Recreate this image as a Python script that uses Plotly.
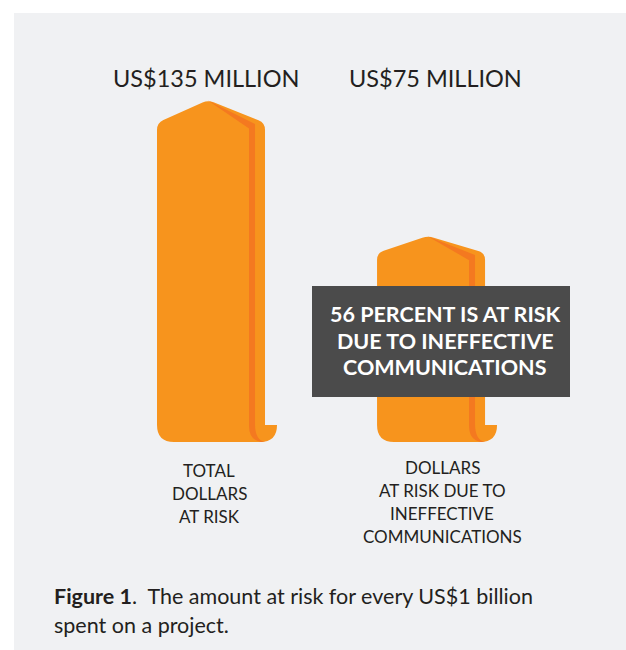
import plotly.graph_objects as go
import math

# ---------------- data ----------------
values = [135, 75]                                   # US$ million at risk per US$1 billion
value_labels = ["US$135 MILLION", "US$75 MILLION"]
category_lines = [
    ["TOTAL", "DOLLARS", "AT RISK"],
    ["DOLLARS", "AT RISK DUE TO", "INEFFECTIVE", "COMMUNICATIONS"],
]
callout_lines = ["56 PERCENT IS AT RISK", "DUE TO INEFFECTIVE", "COMMUNICATIONS"]
caption_line1 = "<b>Figure 1</b>.  The amount at risk for every US$1 billion"
caption_line2 = "spent on a project."

# ---------------- style ----------------
W, H = 626, 650
X_RANGE = [-0.959, 1.886]
Y_RANGE = [-107.65, 179.1]
SX = W / (X_RANGE[1] - X_RANGE[0])      # px per x unit
SY = H / (Y_RANGE[1] - Y_RANGE[0])      # px per y unit
BASE = -15.9                            # bar foot sits a little below zero (curl)
ROOF = [23, 17]                         # roof height in px
HALF = 54                               # half bar width px
LABEL_DX = [-5, 4]
CAT_DX = [-2, 11]
ORANGE = "#F7941D"
DARK_ORANGE = "#F47920"
BG = "#F0F1F3"
TEXT = "#231F20"
FONT = "Lato"


def to_data(i, u, vb):
    return i + u / SX, BASE + vb / SY


def fmt(i, u, vb):
    x, y = to_data(i, u, vb)
    return f"{x:.5f},{y:.4f}"


def rounded_path(i, corners):
    parts = []
    n = len(corners)
    for k, (u, v, r) in enumerate(corners):
        if r == 0:
            parts.append(("M " if k == 0 else "L ") + fmt(i, u, v))
            continue
        pu, pv, _ = corners[k - 1]
        nu, nv, _ = corners[(k + 1) % n]
        d1 = math.hypot(pu - u, pv - v)
        d2 = math.hypot(nu - u, nv - v)
        pin = (u + (pu - u) * r / d1, v + (pv - v) * r / d1)
        pout = (u + (nu - u) * r / d2, v + (nv - v) * r / d2)
        parts.append(("M " if k == 0 else "L ") + fmt(i, *pin))
        parts.append("Q " + fmt(i, u, v) + " " + fmt(i, *pout))
    return " ".join(parts) + " Z"


shapes = []
# background panel
shapes.append(dict(type="rect", xref="paper", yref="paper", x0=14 / W, x1=1,
                   y0=0, y1=1 - 13 / H, fillcolor=BG, line_width=0, layer="below"))

for i, v in enumerate(values):
    T = (v - BASE) * SY
    R = ROOF[i]
    sil = [
        (-HALF, T - R, 7),
        (-3, T, 6),
        (HALF, T - R, 7),
        (HALF, 17, 0),
        (HALF + 12, 17, 0),
        (HALF + 12, 0, 17),
        (-HALF, 0, 17),
    ]
    shapes.append(dict(type="path", xref="x", yref="y", path=rounded_path(i, sil),
                       fillcolor=ORANGE, line_width=0, layer="above"))
    stripe = (
        "M " + fmt(i, -3, T - 0.5)
        + " L " + fmt(i, 44, T - R * 47 / 57 - 5)
        + " L " + fmt(i, 44, 18)
        + " Q " + fmt(i, 44, 2) + " " + fmt(i, 54, 0)
        + " L " + fmt(i, 50, 0)
        + " Q " + fmt(i, 38, 2) + " " + fmt(i, 38, 16)
        + " L " + fmt(i, 38, T - R * 41 / 57 - 12)
        + " Z"
    )
    shapes.append(dict(type="path", xref="x", yref="y", path=stripe,
                       fillcolor=DARK_ORANGE, line_width=0, layer="above"))

# callout box
shapes.append(dict(type="rect", xref="paper", yref="paper", x0=312 / W, x1=570 / W,
                   y0=1 - 397 / H, y1=1 - 286 / H, fillcolor="#4B4B4B",
                   line_width=0, layer="above"))

annotations = []
for i, lab in enumerate(value_labels):
    annotations.append(dict(x=i, xref="x", y=1 - 78 / H, yref="paper", text=lab,
                            showarrow=False, xshift=LABEL_DX[i],
                            font=dict(family=FONT, size=23.5, color=TEXT),
                            xanchor="center", yanchor="middle"))
cat_y0 = [470, 467]
for i, lines in enumerate(category_lines):
    for k, line in enumerate(lines):
        annotations.append(dict(x=i, xref="x", y=1 - (cat_y0[i] + 23.3 * k) / H,
                                yref="paper", text=line, showarrow=False,
                                xshift=CAT_DX[i],
                                font=dict(family=FONT, size=17, color=TEXT),
                                xanchor="center", yanchor="middle"))
for k, line in enumerate(callout_lines):
    annotations.append(dict(x=445 / W, xref="paper", y=1 - (314 + 26.5 * k) / H,
                            yref="paper", text="<b>" + line + "</b>", showarrow=False,
                            font=dict(family=FONT, size=21.5, color="white"),
                            xanchor="center", yanchor="middle"))
annotations.append(dict(x=52 / W, xref="paper", y=1 - 596 / H, yref="paper",
                        text=caption_line1, showarrow=False,
                        font=dict(family=FONT, size=21.5, color=TEXT),
                        xanchor="left", yanchor="middle"))
annotations.append(dict(x=52 / W, xref="paper", y=1 - 625 / H, yref="paper",
                        text=caption_line2, showarrow=False,
                        font=dict(family=FONT, size=21.5, color=TEXT),
                        xanchor="left", yanchor="middle"))

fig = go.Figure()
fig.add_trace(go.Scatter(x=[0, 1], y=values, mode="markers",
                         marker=dict(opacity=0), hoverinfo="skip", showlegend=False))
fig.update_layout(
    width=W, height=H, margin=dict(l=0, r=0, t=0, b=0),
    paper_bgcolor="white", plot_bgcolor="rgba(0,0,0,0)",
    xaxis=dict(range=X_RANGE, visible=False, fixedrange=True),
    yaxis=dict(range=Y_RANGE, visible=False, fixedrange=True),
    shapes=shapes, annotations=annotations, showlegend=False,
)
fig.write_html(
    "out.html",
    config={"displayModeBar": False},
    post_script="document.body.style.margin='0';document.body.style.overflow='hidden';",
)
